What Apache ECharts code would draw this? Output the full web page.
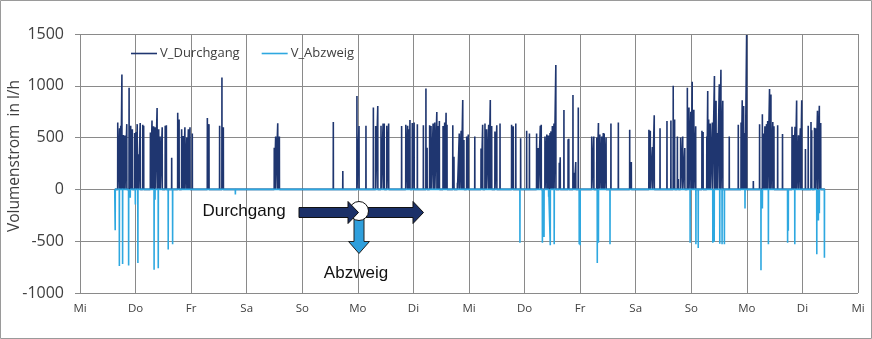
<!DOCTYPE html>
<html>
<head>
<meta charset="utf-8">
<script src="https://cdn.jsdelivr.net/npm/echarts@6/dist/echarts.min.js"></script>
<style>
  html, body { margin: 0; padding: 0; background: #fff; }
  #chart { width: 872px; height: 339px; }
</style>
</head>
<body>
<div id="chart"></div>
<script>
// Hours since Wednesday 00:00 and flow rates (l/h) of the individual draw-offs
const dayLabels = ['Mi','Do','Fr','Sa','So','Mo','Di','Mi','Do','Fr','Sa','So','Mo','Di','Mi'];

const durchgangHours = [
  16.3,17.1,17.6,18.1,18.7,19.4,20.2,21.2,21.9,22.6,23.6,24.2,24.7,25.2,26.0,27.1,27.5,30.4,31.1,31.8,32.4,33.3,34.0,34.6,35.5,36.8,37.3,39.6,42.2,42.8,43.9,44.6,45.3,46.1,46.8,47.5,48.5,55.0,55.7,60.3,61.3,61.9,
  83.9,84.5,85.4,86.1,109.4,113.5,119.6,120.5,123.5,126.7,127.7,128.6,130.0,130.9,131.4,132.5,133.3,138.9,140.7,141.5,142.2,142.5,143.5,144.3,145.7,148.3,149.4,149.9,151.0,151.6,152.5,153.2,154.1,154.6,155.2,156.8,157.5,158.1,158.5,161.0,161.5,163.0,163.8,164.6,165.3,165.8,167.0,167.7,170.5,173.2,173.9,174.9,175.6,176.5,177.2,177.8,179.2,180.0,181.4,186.4,187.1,188.2,190.3,192.9,194.1,
  197.2,197.9,198.8,199.2,200.8,201.6,202.3,203.0,203.4,204.0,204.7,205.5,207.0,207.4,209.0,210.8,211.1,212.9,213.5,214.1,215.2,221.0,221.9,223.2,223.9,224.5,225.3,226.0,226.4,227.2,229.3,232.5,237.4,238.1,245.7,246.3,247.2,248.0,250.5,253.5,
  255.2,256.2,256.8,258.0,258.4,259.4,260.3,261.2,262.3,263.0,263.8,264.4,265.1,265.9,268.6,269.1,270.7,271.1,271.5,272.2,273.1,274.0,274.7,275.2,276.1,276.8,277.6,280.4,284.3,285.5,286.0,286.6,287.2,287.9,290.8,
  293.5,294.7,295.3,295.8,296.5,297.0,297.8,298.4,299.2,299.7,301.3,303.4,307.5,308.1,308.8,309.5,310.3,311.1,311.7,313.3,314.5,315.7,316.0,317.2,317.7,318.5,319.3,319.9
];
const durchgangValues = [
  645,590,615,1110,525,520,630,980,615,580,545,555,630,340,640,625,615,550,665,610,600,785,580,510,600,615,620,305,740,675,580,515,600,500,580,600,540,690,630,615,1080,600,
  403,510,638,510,650,177,902,612,615,790,612,805,615,635,635,615,635,612,625,615,580,670,640,645,630,620,975,403,620,612,635,645,748,612,660,612,645,740,625,620,315,65,540,565,863,477,510,530,510,395,625,635,580,625,863,612,560,620,635,625,610,635,493,565,540,
  540,400,615,625,510,530,520,545,560,612,635,1200,258,310,767,483,490,910,160,265,790,510,510,500,640,530,510,545,540,500,635,645,575,265,575,565,410,715,590,660,
  665,1000,675,510,100,500,510,400,980,790,750,1040,770,610,565,555,510,950,675,635,645,1095,855,545,1015,1155,855,510,625,645,860,805,545,1490,80,
  630,725,540,610,630,660,970,915,650,610,620,535,605,525,605,858,522,590,860,390,615,650,570,595,590,760,808,640
];

const abzweigHours = [
  15.2,17.0,18.4,21.0,21.7,23.9,25.0,32.0,32.4,33.8,38.1,40.0,67.1,
  190.0,199.7,200.4,202.4,203.1,204.8,215.6,216.0,223.4,223.9,228.9,
  263.5,266.0,267.0,273.3,273.9,276.3,277.3,278.3,287.2,
  294.1,294.7,297.3,305.6,305.9,308.7,318.2,318.9,319.3,321.5
];
const abzweigValues = [
  -395,-740,-720,-735,-80,-145,-710,-775,-100,-760,-580,-530,-50,
  -515,-515,-460,-70,-540,-530,-530,-540,-710,-515,-530,
  -515,-530,-565,-515,-505,-525,-530,-530,-185,
  -780,-185,-530,-515,-400,-530,-625,-300,-230,-660
];

// Recording period (hours)
const recordStart = 15.0;
const recordEnd = 321.8;

// Turn the draw-off list into a line that rests on zero between the events
function spikeLine(hours, values) {
  const d = 0.04;
  const out = [[recordStart, 0]];
  hours.forEach((h, i) => {
    out.push([h - d, 0], [h, values[i]], [h + d, 0]);
  });
  out.push([recordEnd, 0]);
  return out;
}

const navy = '#1f3670';
const sky = '#2ea8e0';
const gridGray = '#8a8a8a';
const textGray = '#404040';

const chart = echarts.init(document.getElementById('chart'), null, { renderer: 'canvas' });

chart.setOption({
  animation: false,
  backgroundColor: '#ffffff',
  textStyle: { fontFamily: 'Open Sans' },
  grid: { left: 80, right: 14, top: 34, bottom: 46, containLabel: false },
  legend: {
    left: 131,
    top: 47,
    padding: 0,
    icon: 'rect',
    itemWidth: 26,
    itemHeight: 1.6,
    itemGap: 22,
    textStyle: { fontSize: 13, color: textGray, fontFamily: 'Open Sans', padding: [0, 0, 0, -2] },
    data: ['V_Durchgang', 'V_Abzweig']
  },
  xAxis: {
    type: 'value',
    min: 0,
    max: 336,
    interval: 24,
    axisLine: { show: false },
    axisTick: { show: false },
    axisLabel: {
      margin: 10,
      fontSize: 11.5,
      color: textGray,
      formatter: v => dayLabels[Math.round(v / 24)]
    },
    splitLine: { show: true, lineStyle: { color: gridGray, width: 1 } }
  },
  yAxis: {
    type: 'value',
    min: -1000,
    max: 1500,
    interval: 500,
    axisLine: { show: false },
    axisTick: { show: true, inside: false, length: 5, lineStyle: { color: gridGray } },
    axisLabel: {
      margin: 16,
      fontSize: 16,
      color: textGray,
      formatter: v => String(v)
    },
    splitLine: { show: true, lineStyle: { color: gridGray, width: 1 } }
  },
  series: [
    {
      name: 'V_Durchgang',
      type: 'line',
      data: spikeLine(durchgangHours, durchgangValues),
      showSymbol: false,
      symbol: 'none',
      color: navy,
      lineStyle: { color: navy, width: 1.6 },
      z: 2
    },
    {
      name: 'V_Abzweig',
      type: 'line',
      data: spikeLine(abzweigHours, abzweigValues),
      showSymbol: false,
      symbol: 'none',
      color: sky,
      lineStyle: { color: sky, width: 1.6 },
      z: 3
    }
  ],
  graphic: [
    // outer frame
    {
      type: 'rect',
      shape: { x: 0.5, y: 0.5, width: 871, height: 338 },
      style: { fill: 'none', stroke: '#9a9a9a', lineWidth: 1 },
      silent: true, z: 0
    },
    // axis title
    {
      type: 'text',
      x: 15, y: 156,
      rotation: Math.PI / 2,
      style: {
        text: 'Volumenstrom  in l/h',
        fill: textGray,
        font: '15.5px "Open Sans"',
        align: 'center',
        verticalAlign: 'middle'
      },
      z: 10
    },
    // flow schematic: outgoing straight-through arrow
    {
      type: 'polygon',
      shape: { points: [[360,207.5],[413,207.5],[413,201.5],[423.5,212.5],[413,223.5],[413,217.5],[360,217.5]] },
      style: { fill: '#1b3068', stroke: '#111', lineWidth: 1 },
      z: 20
    },
    // branch arrow (downwards)
    {
      type: 'polygon',
      shape: { points: [[354,219],[364,219],[364,241.5],[369.5,241.5],[359,253.5],[348.5,241.5],[354,241.5]] },
      style: { fill: '#2f9fdc', stroke: '#222', lineWidth: 1 },
      z: 20
    },
    // tee junction
    {
      type: 'circle',
      shape: { cx: 359, cy: 211, r: 9.5 },
      style: { fill: '#ffffff', stroke: '#111', lineWidth: 1 },
      z: 21
    },
    // incoming arrow
    {
      type: 'polygon',
      shape: { points: [[299,207.5],[348,207.5],[348,201.5],[358.5,212.5],[348,223.5],[348,217.5],[299,217.5]] },
      style: { fill: '#1b3068', stroke: '#111', lineWidth: 1 },
      z: 22
    },
    {
      type: 'text',
      x: 244, y: 211,
      style: {
        text: 'Durchgang',
        fill: '#111',
        font: '17px "Liberation Sans"',
        align: 'center',
        verticalAlign: 'middle'
      },
      z: 22
    },
    {
      type: 'text',
      x: 356, y: 273,
      style: {
        text: 'Abzweig',
        fill: '#111',
        font: '17px "Liberation Sans"',
        align: 'center',
        verticalAlign: 'middle'
      },
      z: 22
    }
  ]
});
</script>
</body>
</html>
